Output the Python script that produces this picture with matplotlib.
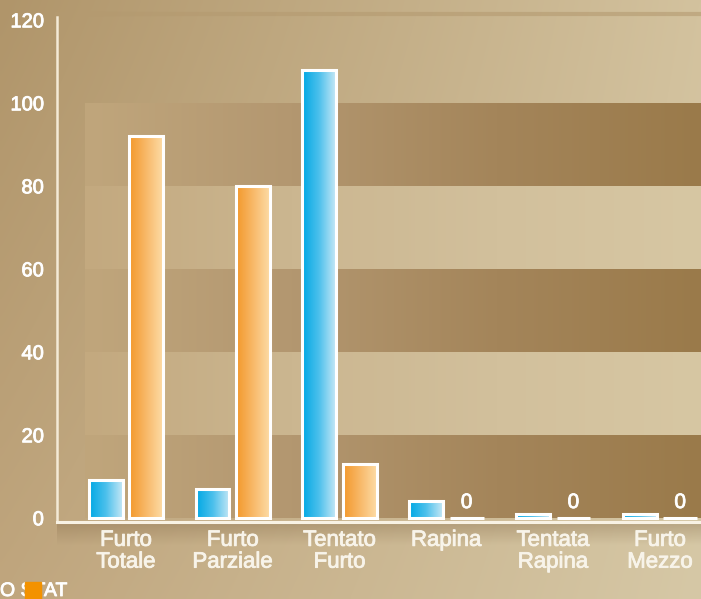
import numpy as np
import matplotlib.pyplot as plt
import matplotlib.patheffects as pe
from matplotlib.colors import LinearSegmentedColormap, to_rgb
from matplotlib.patches import Rectangle

plt.rcParams['font.family'] = ['Liberation Sans', 'DejaVu Sans']

categorie = ['Furto\nTotale', 'Furto\nParziale', 'Tentato\nFurto',
             'Rapina', 'Tentata\nRapina', 'Furto\nMezzo']
serie_blu = [9, 7, 108, 4, 1, 1]
serie_arancio = [92, 80, 13, 0, 0, 0]
y_ticks = [0, 20, 40, 60, 80, 100, 120]

W, H = 701, 599
fig = plt.figure(figsize=(W / 100, H / 100), dpi=100)

# testo leggermente ispessito
spesso = [pe.withStroke(linewidth=0.6, foreground='white')]


def grad2d(tl, tr, bl, br, n=200):
    tl, tr, bl, br = [np.array(to_rgb(c)) for c in (tl, tr, bl, br)]
    u = np.linspace(0, 1, n)[None, :, None]
    v = np.linspace(0, 1, n)[:, None, None]
    top = tl * (1 - u) + tr * u
    bot = bl * (1 - u) + br * u
    return top * (1 - v) + bot * v


def hgrad(stops, n=256):
    cm = LinearSegmentedColormap.from_list('g', stops)
    return np.linspace(0, 1, n)[None, :], cm


# sfondo marrone sfumato
bg = fig.add_axes([0, 0, 1, 1], zorder=0)
bg.imshow(grad2d('#b0956a', '#d3c29e', '#c0a67e', '#d6c8a6'),
          extent=[0, 1, 0, 1], aspect='auto', interpolation='bicubic')
# ombra sotto l'asse x
sh = np.zeros((50, 2, 4))
sh[..., :3] = to_rgb('#7d6240')
sh[..., 3] = np.linspace(0.35, 0, 50)[:, None]
bg.imshow(sh, extent=[57 / W, 1, (H - 545) / H, (H - 522) / H],
          aspect='auto', interpolation='bicubic')
bg.plot([57 / W, 1], [(H - 14) / H] * 2, color='#b49a70', lw=3, alpha=0.6)
bg.set_xlim(0, 1)
bg.set_ylim(0, 1)
bg.axis('off')

ax = fig.add_axes([57 / W, (H - 521.5) / H, 1 - 57 / W, (521.5 - 16.5) / H], zorder=1)
ax.set_facecolor('none')

# fasce orizzontali
x0, x1 = -0.384, 5.4
for lo, hi, scura in [(0, 20, True), (20, 40, False), (40, 60, True),
                      (60, 80, False), (80, 100, True)]:
    if scura:
        g, cm = hgrad(['#c0a67c', '#b39770', '#a4855a', '#9a7a4a'])
    else:
        g, cm = hgrad(['#c3a97f', '#cbb690', '#d2c09c', '#d7c7a3'])
    ax.imshow(g, cmap=cm, extent=[x0, x1, lo, hi], aspect='auto',
              interpolation='bicubic', zorder=0.5)

w = 0.318
off = 0.19
g_blu, cm_blu = hgrad(['#00a8e4', '#4cc0ec', '#c6e8f6'])
g_ara, cm_ara = hgrad(['#f3982a', '#f8b868', '#fddca6'])

for i in range(len(categorie)):
    for xc, v, g, cm in [(i - off, serie_blu[i], g_blu, cm_blu),
                         (i + off, serie_arancio[i], g_ara, cm_ara)]:
        if v > 0:
            ax.imshow(g, cmap=cm, extent=[xc - w / 2, xc + w / 2, 0, v],
                      aspect='auto', interpolation='bicubic', zorder=3)
        ax.add_patch(Rectangle((xc - w / 2, 0), w, v, fill=False,
                               edgecolor='white', lw=2.2, zorder=4))
    if serie_arancio[i] == 0:
        ax.annotate('0', (i + off, serie_arancio[i]), xytext=(0, 7),
                    textcoords='offset points', ha='center', va='baseline',
                    color='white', fontsize=15, zorder=5, path_effects=spesso)

ax.set_xlim(-0.646, 5.384)
ax.set_ylim(-0.9, 120.8)

for s in ['top', 'right']:
    ax.spines[s].set_visible(False)
ax.spines['left'].set_color('#f4ead6')
ax.spines['left'].set_linewidth(1.8)
ax.spines['bottom'].set_color('#f8f2e4')
ax.spines['bottom'].set_linewidth(2.2)

ax.set_yticks(y_ticks)
ax.tick_params(axis='y', length=0, pad=9.5, labelcolor='white', labelsize=14.5)
ax.set_xticks(range(len(categorie)))
ax.set_xticklabels(categorie, color='#f8f4ea', fontsize=16, linespacing=1.05)
ax.tick_params(axis='x', length=0, pad=6)
for t in ax.get_xticklabels() + ax.get_yticklabels():
    t.set_path_effects([pe.withStroke(linewidth=0.6, foreground=t.get_color())])

fig.text(0, (H - 596) / H, 'O STAT', va='baseline', ha='left',
         fontsize=14, color='white', path_effects=spesso)
fig.add_artist(Rectangle((25 / W, 0), 16 / W, 17 / H, color='#f39200',
                         transform=fig.transFigure, zorder=5))

fig.savefig('out.png', dpi=100)
